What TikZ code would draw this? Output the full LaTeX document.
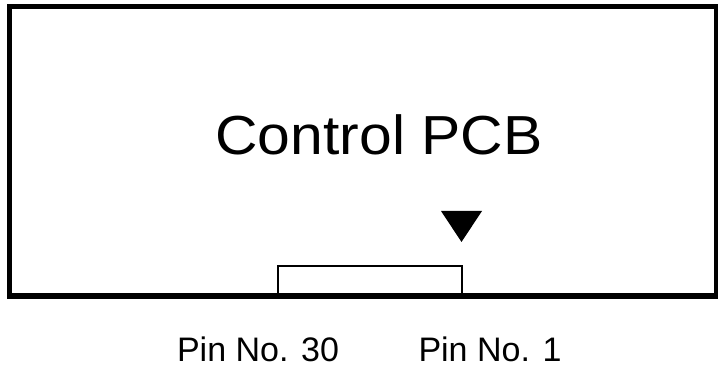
\documentclass[tikz,border=0pt]{standalone}
\usepackage{fontspec}
\setmainfont{Liberation Sans}
\begin{document}
\begin{tikzpicture}[x=1pt,y=1pt,
  board/.style={draw=black,line width=5.5pt},
  conn/.style={draw=black,line width=1.3pt},
  pointer/.style={fill=black},
  title/.style={anchor=base,inner sep=0pt,font=\fontsize{55}{60}\selectfont,xscale=1.07},
  pinlabel/.style={anchor=base,inner sep=0pt,font=\fontsize{34}{40}\selectfont}]
\useasboundingbox (0,0) rectangle (718,369);
\node[fill=white,inner sep=0pt,minimum width=718pt,minimum height=369pt] (bg) at (359,184.5) {};
\coordinate (c1) at (278,73);
\coordinate (c2) at (462,103);
\draw[conn,fill=white] (c1) rectangle (c2);
\draw[board] (9.5,73) rectangle (716.8,362.5);
\node[title] (pcb) at (379,214) {Control PCB};
\fill[pointer] (441,158) -- (482,158) -- (461.5,127) -- cycle;
\node[pinlabel] (p30) at (258,7) {Pin No. 30};
\node[pinlabel] (p1) at (490,7) {Pin No. 1};
\end{tikzpicture}
\end{document}
